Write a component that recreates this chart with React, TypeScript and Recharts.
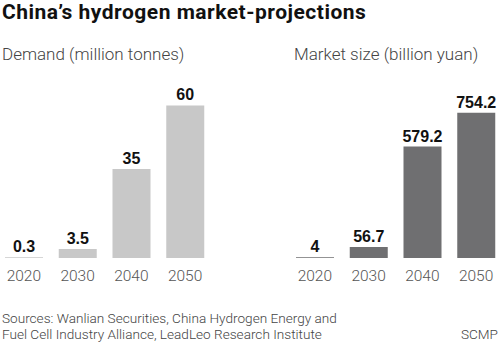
import { BarChart, Bar, XAxis, YAxis, LabelList } from "recharts"

const years = ["2020", "2030", "2040", "2050"]
const demand = [0.3, 3.5, 35, 60]
const marketSize = [4, 56.7, 579.2, 754.2]
const demandLabels = ["0.3", "3.5", "35", "60"]
const marketLabels = ["4", "56.7", "579.2", "754.2"]

const demandData = years.map((year, i) => ({ year, value: demand[i], label: demandLabels[i] }))
const marketData = years.map((year, i) => ({ year, value: marketSize[i], label: marketLabels[i] }))

const FONT = "Roboto, 'Noto Sans', sans-serif"

function Panel({
  data,
  color,
  max,
  left,
}: {
  data: { year: string; value: number; label: string }[]
  color: string
  max: number
  left: number
}) {
  return (
    <div style={{ position: "absolute", left, top: 0 }}>
      <BarChart width={215} height={300} data={data} margin={{ top: 80, right: 0, bottom: 0, left: 0 }}>
        <XAxis
          dataKey="year"
          axisLine={false}
          tickLine={false}
          tickSize={0}
          tickMargin={12}
          height={42}
          interval={0}
          tick={{ fontFamily: FONT, fontWeight: 300, fontSize: 15.5, fill: "#555" }}
        />
        <YAxis hide domain={[0, max]} />
        <Bar dataKey="value" fill={color} barSize={38} isAnimationActive={false}>
          <LabelList
            dataKey="label"
            position="top"
            offset={5}
            style={{ fontFamily: "'Liberation Sans', Arial, sans-serif", fontWeight: 700, fontSize: 16, fill: "#111" }}
          />
        </Bar>
      </BarChart>
    </div>
  )
}

export default function App() {
  return (
    <div
      style={{
        position: "absolute",
        left: 0,
        top: 0,
        width: 500,
        height: 342,
        overflow: "hidden",
        background: "#fff",
        fontFamily: FONT,
      }}
    >
      <div
        style={{
          position: "absolute",
          left: 2,
          top: 0,
          fontSize: 21,
          lineHeight: "25px",
          letterSpacing: 0.5,
          fontWeight: 700,
          color: "#111",
          whiteSpace: "nowrap",
        }}
      >
        China’s hydrogen market-projections
      </div>
      <div style={{ position: "absolute", left: 2, top: 46, fontSize: 17, lineHeight: "17px", fontWeight: 300, color: "#444" }}>
        Demand (million tonnes)
      </div>
      <div style={{ position: "absolute", left: 294, top: 46, fontSize: 17, lineHeight: "17px", fontWeight: 300, color: "#444" }}>
        Market size (billion yuan)
      </div>

      <Panel data={demandData} color="#c8c8c8" max={70} left={-3} />
      <Panel data={marketData} color="#6f6f71" max={925} left={288} />

      <div style={{ position: "absolute", left: 2, top: 310, fontSize: 13.6, lineHeight: "16px", fontWeight: 300, color: "#444" }}>
        Sources: Wanlian Securities, China Hydrogen Energy and
        <br />
        Fuel Cell Industry Alliance, LeadLeo Research Institute
      </div>
      <div style={{ position: "absolute", right: 2, top: 326, fontSize: 13.6, lineHeight: "16px", fontWeight: 300, color: "#444" }}>
        SCMP
      </div>
    </div>
  )
}
